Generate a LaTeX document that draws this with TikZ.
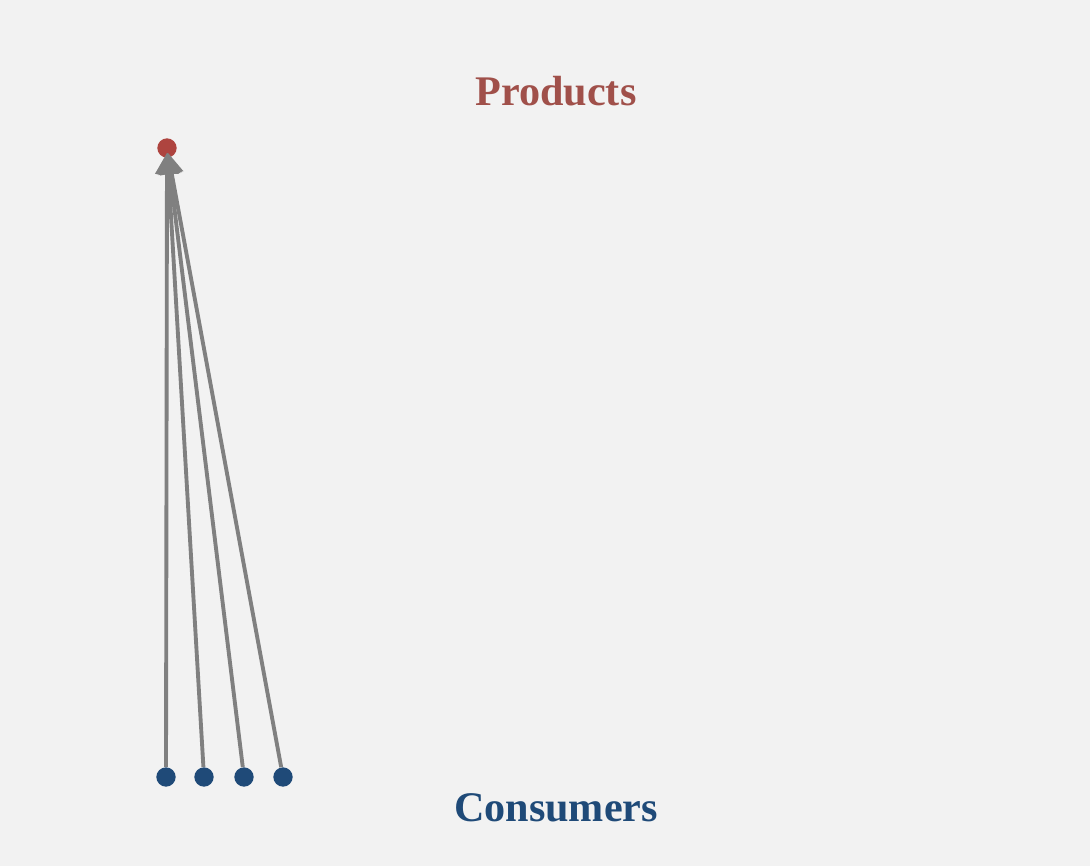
\documentclass[tikz,border=0pt]{standalone}
\usepackage{fontspec}
\setmainfont{Liberation Serif}
\usetikzlibrary{arrows.meta,positioning}
\definecolor{bg}{HTML}{F2F2F2}
\definecolor{prod}{HTML}{A0504A}
\definecolor{cons}{HTML}{1F4A78}
\definecolor{edge}{HTML}{808080}
\tikzset{
  pdot/.style={circle,fill=prod!85!red,inner sep=0pt,minimum size=11pt},
  cdot/.style={circle,fill=cons,inner sep=0pt,minimum size=11pt},
  lbl/.style={font=\fontsize{24}{28}\selectfont\bfseries},
  ar/.style={-{Triangle[length=12pt,width=13pt]},line width=2.2pt,draw=edge,shorten >=-3pt},
}
\begin{document}
\begin{tikzpicture}[x=0.02cm,y=-0.02cm]
\fill[bg] (0,0) rectangle (1090,866);
\node[lbl,text=prod] (ptitle) at (556,91) {Products};
\node[lbl,text=cons] (ctitle) at (556,808) {Consumers};
\node[pdot] (p1) at (167,148) {};
% consumers
\foreach \i/\x in {1/166,2/204,3/244,4/283}
  \node[cdot] (c\i) at (\x,777) {};
\foreach \i in {1,...,4}
  \draw[ar] (c\i) -- (p1);
\end{tikzpicture}
\end{document}
